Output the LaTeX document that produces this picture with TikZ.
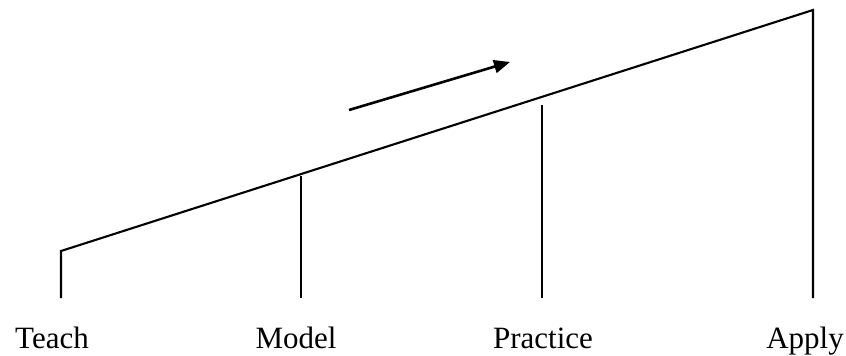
\documentclass[tikz,border=0pt]{standalone}
\usepackage{fontspec}
\setmainfont{Liberation Serif}
\usetikzlibrary{arrows.meta}
\begin{document}
\begin{tikzpicture}[x=1pt,y=-1pt,
  lbl/.style={anchor=base,inner sep=0pt,font=\fontsize{31}{37}\selectfont},
  post/.style={line width=1.6pt},
  slope/.style={line width=2.1pt}]
\useasboundingbox (0,0) rectangle (846,356);
\coordinate (t0) at (61,251);
\coordinate (tb) at (61,298);
\coordinate (m0) at (301,176);
\coordinate (mb) at (301,298);
\coordinate (p0) at (542,105);
\coordinate (pb) at (542,298);
\coordinate (a0) at (813,10);
\coordinate (ab) at (813,298);
\draw[slope,line join=miter] (tb) -- (t0) -- (a0) -- (ab);
\draw[post] (m0) -- (mb);
\draw[post] (p0) -- (pb);
\coordinate (as) at (349,110);
\coordinate (ae) at (510,62);
\draw[line width=2.6pt,-{Triangle[length=16pt,width=13pt]}] (as) -- (ae);
\node[lbl] (teach) at (52,348) {Teach};
\node[lbl] (model) at (296,348) {Model};
\node[lbl] (practice) at (543,348) {Practice};
\node[lbl] (apply) at (805,348) {Apply};
\end{tikzpicture}
\end{document}
